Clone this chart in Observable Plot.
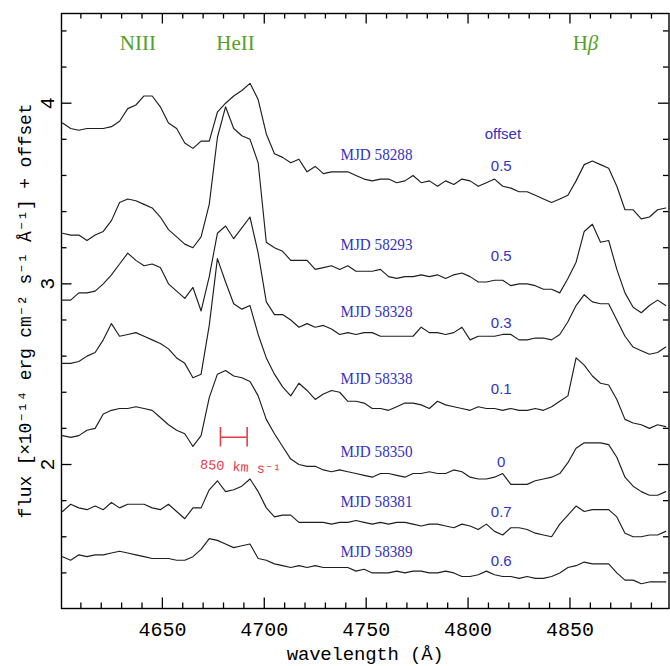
<!DOCTYPE html>
<html><head><meta charset="utf-8">
<script src="https://cdn.jsdelivr.net/npm/d3@7"></script>
<script src="https://cdn.jsdelivr.net/npm/@observablehq/plot@0.6"></script>
<style>body{margin:0;background:#fff}#chart{width:670px;height:666px}</style>
</head><body><div id="chart"></div>
<script>
// ---- data ----
const wavelength = [4601,4605,4609,4613,4617,4621,4625,4629,4633,4637,4641,4645,4649,4653,4657,4661,4665,4669,4673,4677,4681,4685,4689,4693,4697,4701,4705,4709,4713,4717,4721,4725,4729,4733,4737,4741,4745,4749,4753,4757,4761,4765,4769,4773,4777,4781,4785,4789,4793,4797,4801,4805,4809,4813,4817,4821,4825,4829,4833,4837,4841,4845,4849,4853,4857,4861,4865,4869,4873,4877,4881,4885,4889,4893,4897];

const mjd58288 = [3.89,3.86,3.85,3.86,3.86,3.86,3.87,3.90,3.97,3.99,
4.04,4.04,3.98,3.89,3.86,3.78,3.75,3.79,3.79,3.95,
4.00,4.04,4.07,4.11,4.02,3.83,3.72,3.70,3.67,3.69,
3.62,3.65,3.61,3.62,3.62,3.62,3.60,3.58,3.57,3.58,
3.58,3.56,3.57,3.60,3.56,3.57,3.54,3.57,3.55,3.58,
3.57,3.54,3.56,3.58,3.54,3.53,3.51,3.51,3.49,3.47,
3.45,3.47,3.49,3.57,3.66,3.68,3.66,3.64,3.54,3.41,
3.41,3.36,3.37,3.41,3.42];

const mjd58293 = [3.28,3.27,3.27,3.24,3.27,3.29,3.35,3.45,3.47,3.46,
3.44,3.42,3.37,3.30,3.26,3.22,3.20,3.26,3.44,3.81,
3.98,3.86,3.82,3.80,3.67,3.23,3.20,3.18,3.13,3.13,
3.13,3.08,3.09,3.10,3.08,3.10,3.07,3.07,3.07,3.08,
3.04,3.03,3.04,3.04,3.05,3.04,3.05,3.03,3.05,3.06,
3.04,3.01,3.01,3.02,3.02,2.99,3.00,3.00,2.99,2.97,
2.97,2.95,3.03,3.12,3.29,3.33,3.23,3.24,3.08,2.95,
2.87,2.84,2.88,2.91,2.88];

const mjd58328 = [2.91,2.91,2.95,2.95,2.96,3.00,3.05,3.11,3.17,3.13,
3.10,3.11,3.09,3.00,2.96,2.92,2.98,2.85,3.04,3.28,
3.32,3.25,3.31,3.37,3.17,2.90,2.83,2.83,2.80,2.76,
2.78,2.76,2.77,2.75,2.72,2.73,2.72,2.73,2.73,2.71,
2.71,2.71,2.71,2.71,2.76,2.73,2.73,2.72,2.73,2.76,
2.69,2.71,2.71,2.71,2.72,2.72,2.69,2.69,2.70,2.70,
2.69,2.72,2.79,2.88,2.94,2.90,2.89,2.89,2.80,2.71,
2.65,2.63,2.61,2.62,2.65];

const mjd58338 = [2.56,2.56,2.57,2.60,2.62,2.69,2.78,2.71,2.72,2.73,
2.71,2.69,2.67,2.64,2.59,2.56,2.48,2.50,2.77,3.14,
3.01,2.89,2.86,2.88,2.72,2.59,2.50,2.43,2.38,2.45,
2.41,2.36,2.39,2.41,2.40,2.35,2.35,2.34,2.31,2.31,
2.30,2.32,2.34,2.34,2.33,2.31,2.35,2.33,2.32,2.31,
2.30,2.32,2.31,2.31,2.30,2.31,2.30,2.30,2.31,2.30,
2.32,2.35,2.38,2.59,2.55,2.49,2.45,2.44,2.36,2.25,
2.23,2.22,2.20,2.22,2.21];

const mjd58350 = [2.16,2.15,2.16,2.19,2.20,2.28,2.30,2.31,2.31,2.32,
2.31,2.30,2.26,2.22,2.19,2.17,2.10,2.16,2.37,2.50,
2.52,2.49,2.48,2.46,2.38,2.25,2.17,2.10,2.03,2.00,
1.99,1.99,1.97,1.96,1.97,1.96,1.95,1.94,1.93,1.95,
1.95,1.94,1.93,1.95,1.95,1.96,1.95,1.95,1.97,1.96,
1.93,1.92,1.92,1.93,1.95,1.89,1.89,1.89,1.91,1.92,
1.93,1.95,2.01,2.09,2.12,2.12,2.12,2.11,2.04,1.93,
1.88,1.85,1.83,1.83,1.85];

const mjd58381 = [1.74,1.78,1.76,1.75,1.77,1.75,1.79,1.76,1.78,1.78,
1.78,1.76,1.75,1.78,1.74,1.70,1.76,1.76,1.86,1.91,
1.85,1.86,1.88,1.92,1.85,1.76,1.71,1.72,1.72,1.68,
1.68,1.68,1.68,1.67,1.68,1.68,1.69,1.68,1.67,1.68,
1.67,1.68,1.68,1.67,1.66,1.67,1.67,1.66,1.65,1.67,
1.66,1.64,1.67,1.63,1.61,1.65,1.65,1.64,1.62,1.61,
1.60,1.67,1.72,1.77,1.74,1.75,1.75,1.75,1.71,1.62,
1.60,1.60,1.61,1.61,1.63];

const mjd58389 = [1.49,1.47,1.50,1.49,1.50,1.50,1.51,1.52,1.51,1.50,
1.49,1.48,1.48,1.48,1.47,1.47,1.49,1.53,1.59,1.58,
1.56,1.54,1.55,1.56,1.48,1.47,1.45,1.44,1.43,1.44,
1.43,1.44,1.43,1.43,1.43,1.43,1.41,1.42,1.40,1.40,
1.40,1.41,1.40,1.41,1.41,1.40,1.40,1.41,1.40,1.38,
1.38,1.39,1.41,1.39,1.38,1.38,1.37,1.38,1.37,1.37,
1.38,1.40,1.43,1.44,1.46,1.45,1.45,1.45,1.40,1.36,
1.36,1.34,1.35,1.35,1.35];

const mjdLabels = ["MJD 58288","MJD 58293","MJD 58328","MJD 58338","MJD 58350","MJD 58381","MJD 58389"];
const offsetLabels = ["0.5","0.5","0.3","0.1","0","0.7","0.6"];
const lineLabels = ["NIII","HeII","Hβ"];
const lineWavelengths = [4638.0, 4685.9, 4857.6];
const xMajor = [4650,4700,4750,4800,4850];
const xMinor = [4610,4620,4630,4640,4660,4670,4680,4690,4710,4720,4730,4740,4760,4770,4780,4790,4810,4820,4830,4840,4860,4870,4880,4890];
const yMajor = [2,3,4];
const yMinor = [1.4,1.6,1.8,2.2,2.4,2.6,2.8,3.2,3.4,3.6,3.8,4.2,4.4];
const velocityBar = {x1:4678.5, x2:4691.6, label:"850 km s⁻¹"};

// ---- layout / style (not data) ----
const fluxSeries = [mjd58288,mjd58293,mjd58328,mjd58338,mjd58350,mjd58381,mjd58389];
const rows = fluxSeries.flatMap((s,j)=>s.map((f,i)=>({w:wavelength[i], f, s:mjdLabels[j]})));
const mjdBaseline = [3.687,3.187,2.815,2.443,2.044,1.764,1.487];
const offBaseline = [3.624,3.125,2.757,2.388,1.989,1.708,1.441];
const mjdRows = mjdLabels.map((t,i)=>({t, y:mjdBaseline[i]}));
const offRows = offsetLabels.map((t,i)=>({t, y:offBaseline[i]}));
const lineRows = lineLabels.map((t,i)=>({t, x:lineWavelengths[i]}));

const W=670,H=666,mL=61,mR=1.5,mT=13,mB=58;
const innerH=H-mT-mB, innerW=W-mL-mR;
const mono="'Liberation Mono', 'DejaVu Sans Mono', monospace";
const serif="'Liberation Serif', 'DejaVu Serif', serif";
const sans="'Liberation Sans', Arial, sans-serif";
const green="#55a02a", blue="#3333bb", red="#e0404a";

const plot = Plot.plot({
  width:W, height:H, marginLeft:mL, marginRight:mR, marginTop:mT, marginBottom:mB,
  x:{domain:[4600.5,4898.6], axis:null},
  y:{domain:[1.203,4.4965], axis:null},
  style:{background:"#fff", overflow:"visible"},
  marks:[
    Plot.line(rows,{x:"w",y:"f",z:"s",stroke:"#1e1e1e",strokeWidth:1.15,strokeLinejoin:"round"}),
    // ticks (inward, all four sides)
    Plot.tickX(xMajor,{x:d=>d,insetTop:innerH-10.5,stroke:"#000",strokeWidth:1.3}),
    Plot.tickX(xMinor,{x:d=>d,insetTop:innerH-5.5,stroke:"#000",strokeWidth:1.3}),
    Plot.tickX(xMajor,{x:d=>d,insetBottom:innerH-10.5,stroke:"#000",strokeWidth:1.3}),
    Plot.tickX(xMinor,{x:d=>d,insetBottom:innerH-5.5,stroke:"#000",strokeWidth:1.3}),
    Plot.tickY(yMajor,{y:d=>d,insetRight:innerW-10.5,stroke:"#000",strokeWidth:1.3}),
    Plot.tickY(yMinor,{y:d=>d,insetRight:innerW-5.5,stroke:"#000",strokeWidth:1.3}),
    Plot.tickY(yMajor,{y:d=>d,insetLeft:innerW-10.5,stroke:"#000",strokeWidth:1.3}),
    Plot.tickY(yMinor,{y:d=>d,insetLeft:innerW-5.5,stroke:"#000",strokeWidth:1.3}),
    Plot.frame({stroke:"#000",strokeWidth:1.4}),
    // tick labels
    Plot.text(xMajor,{x:d=>d,frameAnchor:"bottom",dy:27,lineAnchor:"bottom",textAnchor:"middle",text:d=>String(d),fontFamily:mono,fontSize:20,fill:"#000"}),
    Plot.text(yMajor,{y:d=>d,frameAnchor:"left",dx:-8,rotate:-90,lineAnchor:"bottom",textAnchor:"middle",text:d=>String(d),fontFamily:mono,fontSize:20,fill:"#000"}),
    // axis titles
    Plot.text(["wavelength (Å)"],{frameAnchor:"bottom",dy:51,lineAnchor:"bottom",textAnchor:"middle",text:d=>d,fontFamily:mono,fontSize:19,fill:"#000"}),
    Plot.text(["flux [×10⁻¹⁴ erg cm⁻² s⁻¹ Å⁻¹] + offset"],{frameAnchor:"left",dx:-31,rotate:-90,lineAnchor:"bottom",textAnchor:"middle",text:d=>d,fontFamily:mono,fontSize:18,fill:"#000"}),
    // line identifications
    Plot.text(lineRows,{x:"x",y:4.292,text:"t",lineAnchor:"bottom",textAnchor:"middle",fontFamily:serif,fontSize:21,fill:green}),
    // MJD and offset labels
    Plot.text(mjdRows,{x:4737.4,y:"y",text:"t",textAnchor:"start",lineAnchor:"bottom",fontFamily:serif,fontSize:17,fill:blue}),
    Plot.text(["offset"],{x:4817.1,y:3.803,text:d=>d,lineAnchor:"bottom",textAnchor:"middle",fontFamily:sans,fontSize:15,fill:blue}),
    Plot.text(offRows,{x:4816.3,y:"y",text:"t",lineAnchor:"bottom",textAnchor:"middle",fontFamily:sans,fontSize:15,fill:blue}),
    // velocity bar
    Plot.ruleY([velocityBar],{x1:"x1",x2:"x2",y:2.151,stroke:red,strokeWidth:1.6}),
    Plot.ruleX([velocityBar.x1,velocityBar.x2],{x:d=>d,y1:2.097,y2:2.205,stroke:red,strokeWidth:1.6}),
    Plot.text([velocityBar],{x:4668.4,y:1.978,text:"label",textAnchor:"start",lineAnchor:"bottom",rotate:4,fontFamily:mono,fontSize:13.5,fill:red})
  ]
});
document.getElementById("chart").appendChild(plot);

const svg = d3.select(plot);
svg.selectAll("text").filter(function(){return this.textContent==="Hβ";}).each(function(){
  const t=d3.select(this); t.text(null);
  t.append("tspan").text("H");
  t.append("tspan").attr("font-style","italic").text("β");
});
svg.selectAll("text").filter(function(){return this.textContent.startsWith("flux");})
  .attr("textLength",415).attr("lengthAdjust","spacing");
svg.selectAll("text").filter(function(){return this.textContent.startsWith("wavelength");})
  .attr("textLength",157).attr("lengthAdjust","spacing");
svg.selectAll("text").filter(function(){return this.textContent.startsWith("MJD");})
  .attr("textLength",72).attr("lengthAdjust","spacingAndGlyphs");
</script></body></html>
